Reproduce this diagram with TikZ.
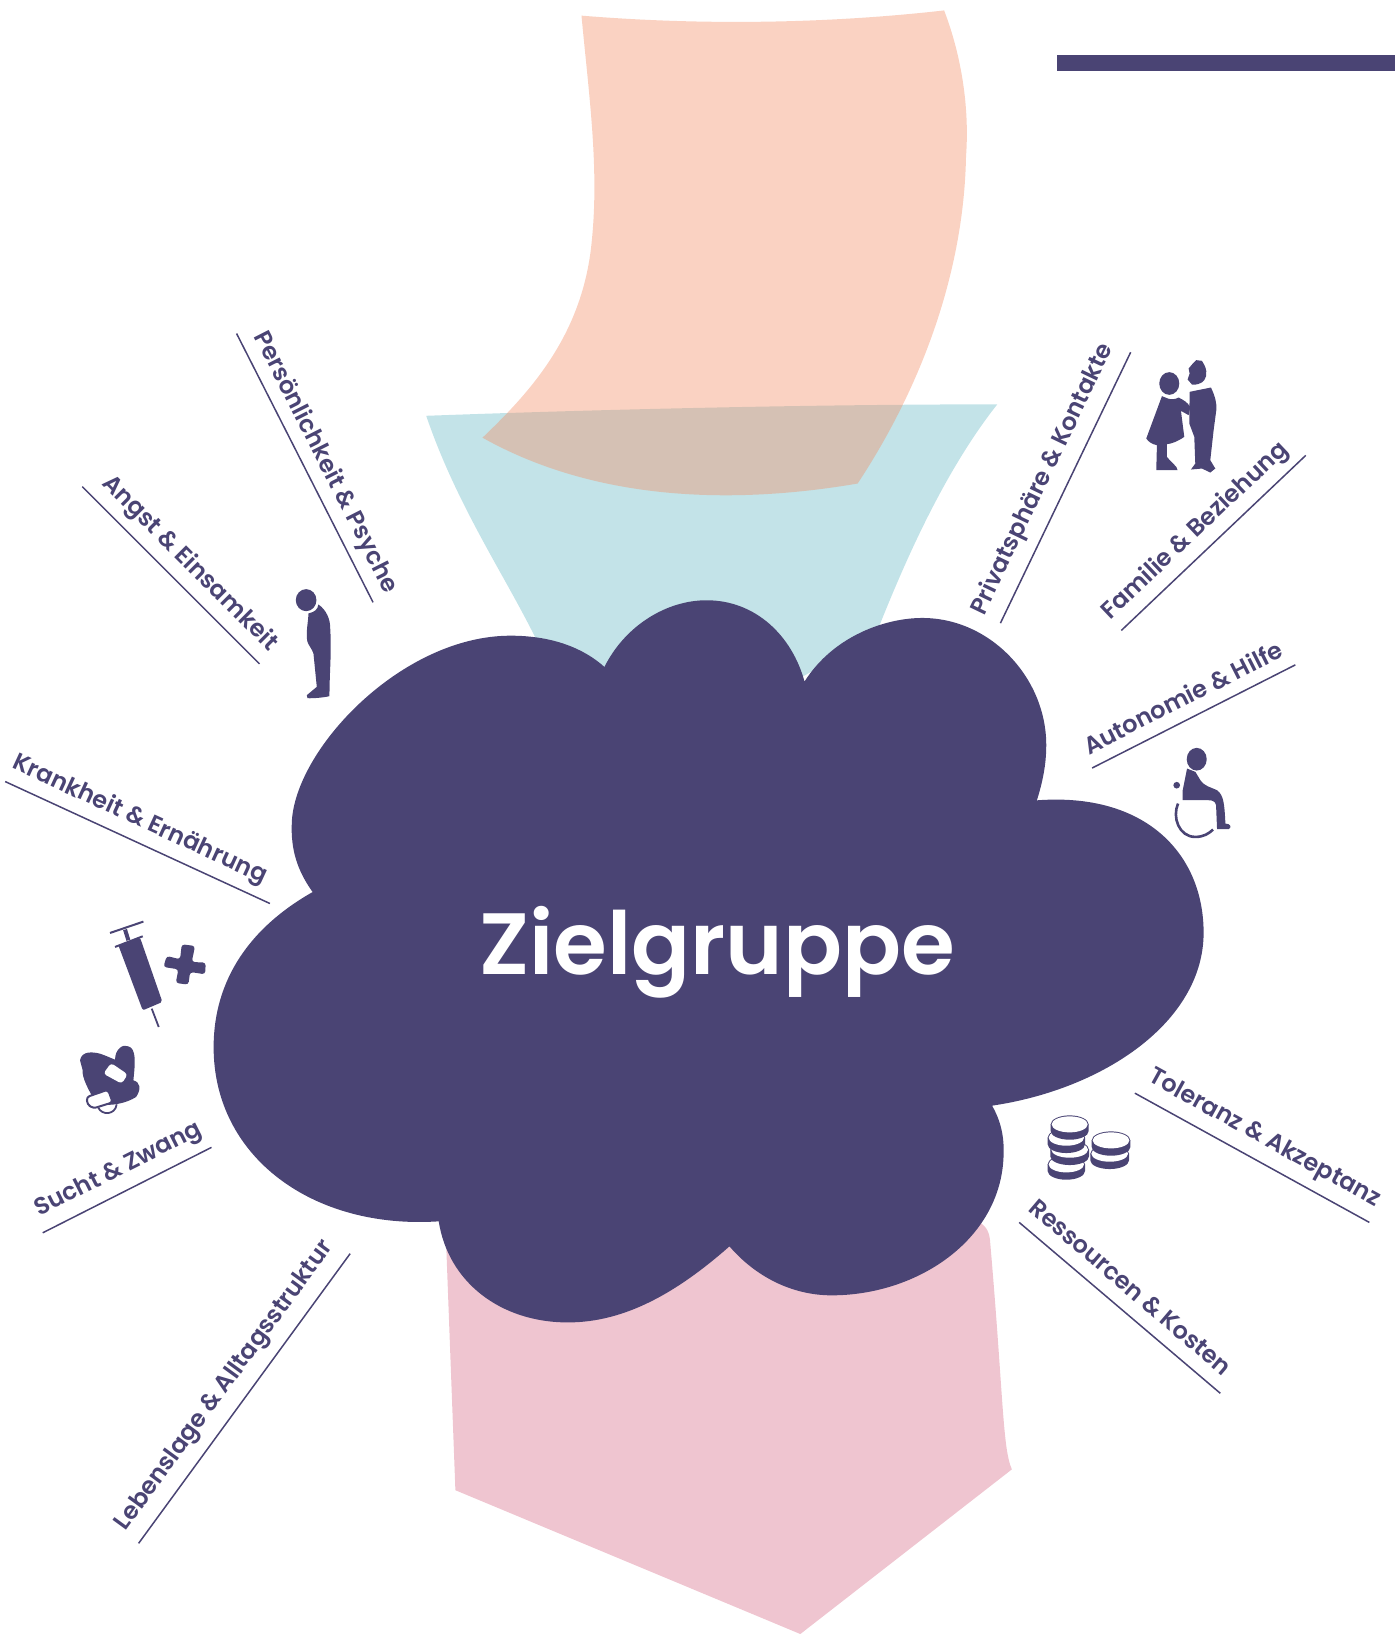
\documentclass[tikz,border=0pt]{standalone}
\usepackage{fontspec}
\setmainfont{Poppins}[UprightFont=* Medium,BoldFont=* SemiBold]
\usepackage{tikz}
\usetikzlibrary{positioning,calc}
\definecolor{zgviolet}{HTML}{4A4474}
\definecolor{zgteal}{HTML}{C3E3E8}
\definecolor{zgpeach}{HTML}{F28E66}
\definecolor{zgpink}{HTML}{EFC5D0}

\begin{document}
\begin{tikzpicture}[
  x=0.5209pt, y=-0.5209pt,
  tag/.style={font=\fontsize{12pt}{14pt}\selectfont\bfseries, text=zgviolet, inner sep=0pt},
  rule/.style={draw=zgviolet, line width=0.75pt},
  icon/.style={fill=zgviolet, draw=none},
]
  \useasboundingbox (0,0) rectangle (1339,1568);

  % Background shapes
  \fill[zgteal] (409,399) .. controls (600,392) and (800,388) .. (957,388)
    .. controls (900,460) and (860,560) .. (840,610) -- (680,700) -- (520,625)
    .. controls (490,560) and (440,490) .. cycle;
  \fill[zgpeach, fill opacity=0.4] (558,15) .. controls (680,25) and (800,22) .. (906,10)
    .. controls (925,60) and (930,110) .. (927,150)
    .. controls (925,260) and (885,370) .. (823,464)
    .. controls (700,485) and (570,480) .. (463,420)
    .. controls (510,375) and (560,320) .. (568,230)
    .. controls (575,160) and (565,90) .. cycle;
  \fill[zgpink] (428,1190) -- (437,1430) -- (768,1568) -- (971,1410)
    .. controls (962,1390) and (963,1340) .. (950,1190)
    .. controls (949,1180) and (945,1175) .. (935,1170) -- cycle;
  \fill[zgviolet] (1014,53) rectangle (1339,68);

  % Cloud
  \fill[zgviolet] (580,640) .. controls (600,600) and (640,576) .. (678,576)
    .. controls (725,576) and (760,610) .. (772,654)
    .. controls (800,610) and (850,593) .. (885,593)
    .. controls (950,593) and (1004,650) .. (1004,715)
    .. controls (1004,735) and (1000,752) .. (995,768)
    .. controls (1100,760) and (1155,820) .. (1155,895)
    .. controls (1155,980) and (1060,1045) .. (952,1061)
    .. controls (960,1075) and (964,1090) .. (963,1110)
    .. controls (960,1190) and (880,1243) .. (798,1243)
    .. controls (760,1243) and (725,1225) .. (700,1196)
    .. controls (650,1240) and (600,1269) .. (545,1269)
    .. controls (480,1269) and (430,1230) .. (421,1172)
    .. controls (300,1180) and (205,1110) .. (205,1005)
    .. controls (205,940) and (240,890) .. (300,856)
    .. controls (285,835) and (279,815) .. (280,790)
    .. controls (282,720) and (385,610) .. (490,610)
    .. controls (530,610) and (560,622) .. cycle;
  \node[font=\fontsize{43.5pt}{50pt}\selectfont\bfseries, text=white, inner sep=0pt] (title) at (688,914) {Zielgruppe};

  % Labels and their rules
  \node[tag, rotate=-63] (psyche) at (312,444) {Persönlichkeit \& Psyche};
  \draw[rule] (227,320) -- (358,578);
  \node[tag, rotate=-45] (angst) at (182,541) {Angst \& Einsamkeit};
  \draw[rule] (79,467) -- (249,637);
  \node[tag, rotate=-24.7] (krank) at (134,787) {Krankheit \& Ernährung};
  \draw[rule] (5,750) -- (259,867);
  \node[tag, rotate=26.8] (sucht) at (114,1123) {Sucht \& Zwang};
  \draw[rule] (41,1183) -- (203,1101);
  \node[tag, rotate=53.9] (lage) at (216,1330) {Lebenslage \& Alltagsstruktur};
  \draw[rule] (133,1481) -- (336,1203);
  \node[tag, rotate=64.3] (privat) at (1001,460) {Privatsphäre \& Kontakte};
  \draw[rule] (960,598) -- (1085,338);
  \node[tag, rotate=43.5] (familie) at (1147,510) {Familie \& Beziehung};
  \draw[rule] (1076,605) -- (1253,437);
  \node[tag, rotate=26.9] (hilfe) at (1135,669) {Autonomie \& Hilfe};
  \draw[rule] (1048,737) -- (1243,638);
  \node[tag, rotate=-28.9] (toleranz) at (1213,1093) {Toleranz \& Akzeptanz};
  \draw[rule] (1089,1049) -- (1314,1173);
  \node[tag, rotate=-40.4] (kosten) at (1085,1235) {Ressourcen \& Kosten};
  \draw[rule] (978,1173) -- (1171,1337);

  % Couple
  \begin{scope}[shift={(1075,326.4)}, scale=0.32]
    \fill[icon] (147,130) ellipse (30 and 34);
    \fill[icon] (125,168) -- (135,172) .. controls (150,180) and (165,178) .. (175,172)
      .. controls (190,180) and (200,185) .. (210,200) -- (205,225) -- (182,212) -- (192,290)
      .. controls (170,305) and (155,310) .. (140,312) -- (140,350)
      .. controls (150,365) and (172,378) .. (172,390) -- (108,390) -- (110,315)
      .. controls (95,312) and (85,305) .. (78,295) -- cycle;
    \fill[icon] (205,85) -- (216,72) -- (228,60) -- (245,62)
      .. controls (258,80) and (264,105) .. (252,120)
      .. controls (245,130) and (225,136) .. (215,133) -- (202,118) -- (208,100) -- cycle;
    \fill[icon] (208,155) -- (272,142) .. controls (285,170) and (290,190) .. (288,210)
      -- (280,270) -- (270,360) -- (285,385) -- (270,397) -- (245,385) -- (212,388)
      -- (225,370) -- (222,290) -- (207,250) -- cycle;
  \end{scope}

  % Wheelchair
  \begin{scope}[shift={(1103.9,700.7)}, scale=0.32]
    \fill[icon] (139,87) ellipse (30 and 34);
    \fill[icon] (110,115) -- (135,125) -- (150,150) .. controls (165,170) and (180,170) .. (200,180)
      .. controls (220,195) and (222,220) .. (225,280) .. controls (240,280) and (245,290) .. (235,297)
      -- (200,297) -- (197,225) .. controls (195,213) and (185,210) .. (175,210) -- (97,210) -- (97,180) -- cycle;
    \fill[icon] (79,165) circle (10);
    \draw[zgviolet, line width=1.3pt] (83,220) .. controls (65,260) and (85,320) .. (135,320)
      .. controls (160,320) and (175,310) .. (188,298);
  \end{scope}

  % Syringe, cross and pills
  \begin{scope}[shift={(57.6,863.9)}, scale=0.32]
    \draw[zgviolet, line width=1pt] (150,98) -- (250,64);
    \draw[zgviolet, line width=2pt] (195,88) -- (205,120);
    \draw[zgviolet, line width=1pt] (165,140) -- (248,108);
    \fill[icon, rounded corners=1pt] (175,135) -- (240,112) -- (307,305) -- (248,330) -- cycle;
    \draw[zgviolet, line width=0.9pt] (275,325) -- (296,380);
    \fill[icon, rounded corners=1.5pt] (365,132) -- (405,137) -- (395,185) -- (437,187) -- (435,222)
      -- (390,215) -- (385,253) -- (347,248) -- (355,207) -- (310,200) -- (320,167) -- (360,177) -- cycle;
    \fill[icon] (60,480) .. controls (65,450) and (100,455) .. (120,460)
      .. controls (135,465) and (150,472) .. (165,478)
      .. controls (165,445) and (190,430) .. (205,438)
      .. controls (230,445) and (225,490) .. (220,540)
      .. controls (240,545) and (245,565) .. (228,590)
      .. controls (200,608) and (150,620) .. (110,610)
      .. controls (85,570) and (65,530) .. (68,510) -- cycle;
    \fill[white, rounded corners=1.6pt] (153,488) -- (203,522) -- (185,550) -- (130,520) -- cycle;
    \draw[zgviolet, line width=0.9pt] (115,622) .. controls (125,645) and (165,645) .. (170,612);
    \draw[zgviolet, line width=1pt, fill=white, rounded corners=1.5pt] (80,590) -- (144,568) -- (158,606)
      -- (100,624) -- (82,612) -- cycle;
  \end{scope}

  % Coins
  \begin{scope}[shift={(988.7,1055.9)}, scale=0.32]
    \foreach \cx/\cy/\rx in {238/160/58, 242/120/58, 108/192/56, 118/148/58, 108/112/56, 118/72/57} {
      \fill[icon] (\cx-\rx,\cy) -- (\cx-\rx,\cy+20) arc[start angle=180, end angle=0, x radius=\rx, y radius=26]
        -- (\cx+\rx,\cy) -- cycle;
      \fill[icon] (\cx,\cy) ellipse ({\rx} and 27);
      \fill[white] (\cx,\cy) ellipse ({\rx-3} and 24);
    }
  \end{scope}

  % Bowed person
  \begin{scope}[shift={(268.8,547.1)}, scale=0.32]
    \fill[icon] (78,90) ellipse (31 and 33);
    \fill[icon] (115,103) .. controls (140,120) and (150,150) .. (150,170)
      .. controls (155,250) and (148,300) .. (148,378) .. controls (130,382) and (100,385) .. (82,384)
      -- (80,375) -- (110,350) -- (100,250) .. controls (95,235) and (85,225) .. (82,215)
      .. controls (76,190) and (85,150) .. (85,130) .. controls (105,125) and (112,118) .. cycle;
  \end{scope}
\end{tikzpicture}
\end{document}
